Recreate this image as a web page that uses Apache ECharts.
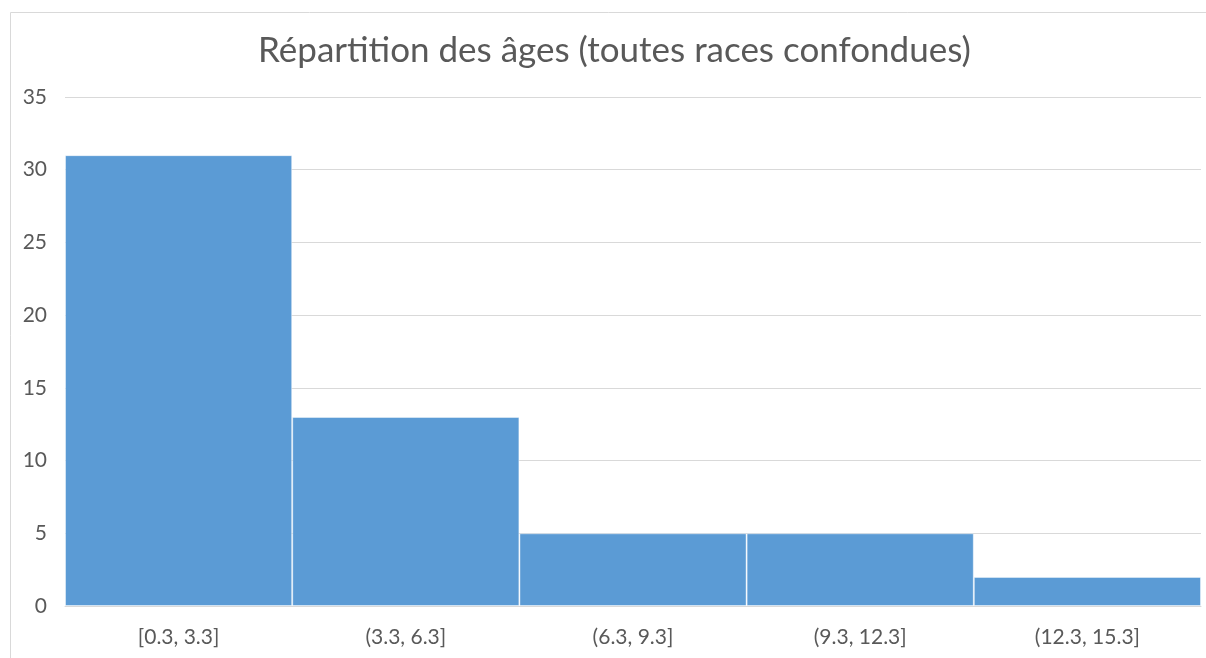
<!DOCTYPE html>
<html>
<head>
<meta charset="utf-8">
<script src="https://cdn.jsdelivr.net/npm/echarts@6/dist/echarts.min.js"></script>
<style>
  html, body { margin: 0; padding: 0; background: #fff; }
  #chart { width: 1206px; height: 658px; }
</style>
</head>
<body>
<div id="chart"></div>
<script>
const chart = echarts.init(document.getElementById('chart'));
const categories = ['[0.3, 3.3]', '(3.3, 6.3]', '(6.3, 9.3]', '(9.3, 12.3]', '(12.3, 15.3]'];
const counts = [31, 13, 5, 5, 2];
const yTicks = { min: 0, max: 35, interval: 5 };

const option = {
  animation: false,
  textStyle: { fontFamily: 'Lato' },
  title: {
    text: 'Répartition des âges (toutes races confondues)',
    left: 253,
    top: 28,
    textStyle: { fontSize: 35, fontWeight: 'normal', color: '#595959', fontFamily: 'Lato' }
  },
  graphic: [
    {
      type: 'rect',
      z: -1,
      shape: { x: 10.5, y: 12.5, width: 1220, height: 700 },
      style: { fill: 'none', stroke: '#d9d9d9', lineWidth: 1 }
    }
  ],
  grid: { left: 65, right: 5, top: 97, bottom: 52 },
  xAxis: {
    type: 'category',
    data: categories,
    axisTick: { show: false },
    axisLine: { lineStyle: { color: '#d9d9d9', width: 1 } },
    axisLabel: { color: '#595959', fontSize: 21, margin: 21 }
  },
  yAxis: {
    type: 'value',
    min: yTicks.min,
    max: yTicks.max,
    interval: yTicks.interval,
    axisLine: { show: false },
    axisTick: { show: false },
    splitLine: { lineStyle: { color: '#d9d9d9', width: 1 } },
    axisLabel: { color: '#595959', fontSize: 21, margin: 18 }
  },
  series: [
    {
      type: 'bar',
      data: counts,
      barCategoryGap: 0,
      itemStyle: {
        color: '#5b9bd5',
        borderColor: 'rgba(255,255,255,0.45)',
        borderWidth: 1
      }
    }
  ]
};
chart.setOption(option);
window.addEventListener('resize', function () { chart.resize(); });
</script>
</body>
</html>
